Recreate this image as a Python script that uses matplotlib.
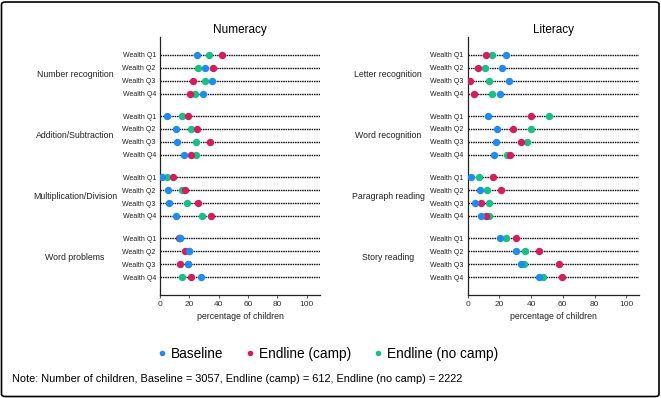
import matplotlib
matplotlib.use("Agg")
import matplotlib.pyplot as plt
from matplotlib.lines import Line2D
from matplotlib.patches import FancyBboxPatch
import numpy as np

plt.rcParams['font.family'] = ['Liberation Sans', 'DejaVu Sans']

quartiles = ["Wealth Q1", "Wealth Q2", "Wealth Q3", "Wealth Q4"]

num_groups = ["Number recognition", "Addition/Subtraction",
              "Multiplication/Division", "Word problems"]
lit_groups = ["Letter recognition", "Word recognition",
              "Paragraph reading", "Story reading"]

# percentage of children, one row per group, Q1..Q4
num_baseline = [[25.0, 30.9, 35.7, 29.1],
                [5.0, 10.9, 11.8, 16.1],
                [1.4, 5.5, 6.1, 10.7],
                [13.6, 20.0, 19.1, 28.0]]
num_camp = [[42.3, 36.4, 22.3, 20.2],
            [18.9, 25.0, 34.1, 20.9],
            [9.1, 17.3, 26.1, 34.8],
            [13.0, 17.3, 13.9, 20.9]]
num_nocamp = [[33.2, 26.1, 30.7, 23.9],
              [14.8, 21.4, 24.3, 24.5],
              [5.0, 14.8, 18.4, 28.4],
              [13.4, 19.5, 18.8, 14.8]]

lit_baseline = [[24.2, 21.7, 26.3, 20.2],
                [12.7, 18.5, 17.7, 16.5],
                [2.4, 7.6, 4.7, 8.5],
                [20.2, 30.5, 33.4, 45.3]]
lit_camp = [[11.4, 6.4, 1.8, 3.9],
            [40.3, 28.8, 33.4, 26.5],
            [15.8, 21.0, 8.7, 11.4],
            [30.5, 44.9, 57.5, 59.2]]
lit_nocamp = [[15.4, 10.8, 13.7, 15.2],
              [51.6, 40.1, 37.6, 24.8],
              [7.4, 12.2, 13.3, 13.5],
              [24.0, 36.1, 35.5, 47.4]]

series_names = ["Baseline", "Endline (camp)", "Endline (no camp)"]
colors = {"Baseline": "#1E8CF5", "Endline (camp)": "#D81B5C",
          "Endline (no camp)": "#14C283"}

W, H = 661, 398
fig = plt.figure(figsize=(W / 100, H / 100), dpi=100)

group_step = 4.7
ypos = np.array([[g * group_step + q for q in range(4)] for g in range(4)])


def panel(rect, title, groups, data, xmax, label_x):
    ax = fig.add_axes(rect)
    for y in ypos.ravel():
        ax.axhline(y, color='#111111', lw=1.0, ls=(0, (1.1, 0.6)), zorder=1)
    # draw order: no camp, camp, baseline on top
    for name in ["Endline (no camp)", "Endline (camp)", "Baseline"]:
        vals = np.array(data[name])
        ax.plot(vals.ravel(), ypos.ravel(), 'o', ms=4.3, color=colors[name],
                ls='none', zorder=3)
    ax.set_xlim(0, xmax)
    ax.set_ylim(ypos.max() + 1.385, -1.385)
    ax.set_yticks(ypos.ravel())
    ax.set_yticklabels(quartiles * 4, fontsize=5)
    ax.tick_params(axis='y', length=0, pad=3, colors='#222222')
    ax.set_xticks([0, 20, 40, 60, 80, 100])
    ax.tick_params(axis='x', labelsize=6, length=2.5, width=0.6, pad=1.5,
                   colors='#333333')
    ax.set_xlabel("percentage of children", fontsize=6.3, labelpad=3,
                  color='#222222')
    for s in ['top', 'right']:
        ax.spines[s].set_visible(False)
    for s in ['left', 'bottom']:
        ax.spines[s].set_linewidth(0.9)
        ax.spines[s].set_color('#222222')
    ax.set_title(title, fontsize=8.5, pad=3)
    # group labels, centred left of the wealth labels
    for g, name in enumerate(groups):
        yc = ypos[g].mean()
        ax.annotate(name, xy=(0, yc), xycoords=('axes fraction', 'data'),
                    xytext=(label_x, 0), textcoords='offset pixels',
                    ha='center', va='center', fontsize=6.3, color='#222222')
    return ax


top = 37 / H
bottom = 295 / H
panel([160 / W, 1 - bottom, 160 / W, bottom - top], "Numeracy", num_groups,
      {"Baseline": num_baseline, "Endline (camp)": num_camp,
       "Endline (no camp)": num_nocamp}, 109, -85)
panel([467.5 / W, 1 - bottom, 171.5 / W, bottom - top], "Literacy", lit_groups,
      {"Baseline": lit_baseline, "Endline (camp)": lit_camp,
       "Endline (no camp)": lit_nocamp}, 108, -79.5)

handles = [Line2D([], [], marker='o', ls='none', ms=3.0, color=colors[n])
           for n in series_names]
fig.legend(handles, series_names, loc='center', ncol=3,
           bbox_to_anchor=(328 / W, 1 - 354 / H), frameon=False,
           fontsize=9.8, handlelength=0.6, handletextpad=0.35,
           columnspacing=1.65)

fig.text(12 / W, 1 - 379 / H,
         "Note: Number of children, Baseline = 3057, Endline (camp) = 612, "
         "Endline (no camp) = 2222",
         fontsize=7.9, va='center', ha='left')

border = FancyBboxPatch((1.5 / W, 1.5 / H), (W - 3.5) / W, (H - 3.5) / H,
                        boxstyle="round,pad=0,rounding_size=0.006",
                        transform=fig.transFigure, fill=False,
                        lw=1.2, ec='black')
fig.add_artist(border)

fig.savefig("out.png", dpi=100)
